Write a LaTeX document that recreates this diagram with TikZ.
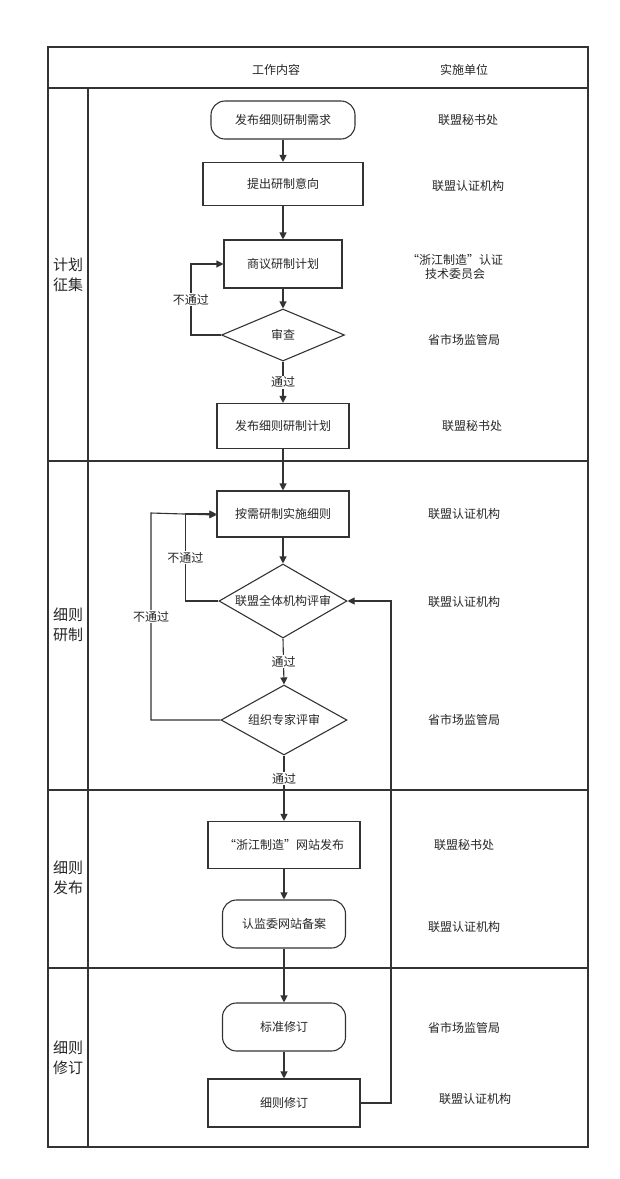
\documentclass[tikz,border=0pt]{standalone}
\usepackage{fontspec}
\setmainfont{Noto Sans CJK SC}
\usetikzlibrary{shapes.geometric,arrows.meta}
\begin{document}
\begin{tikzpicture}[x=1pt,y=-1pt,
  every node/.style={font=\fontsize{12}{15}\selectfont, text=black!85},
  frame/.style={draw=black!80, line width=1.1pt},
  box/.style={draw=black!80, line width=1.1pt, rectangle, minimum width=#1, inner sep=0pt},
  rbox/.style={draw=black!80, line width=1.1pt, rectangle, rounded corners=14pt, minimum width=#1, inner sep=0pt},
  dia/.style={draw=black!80, line width=1.1pt, diamond, aspect=2, inner sep=0pt},
  arr/.style={draw=black!80, line width=1.1pt, -{Triangle[length=7pt,width=7pt]}},
  lab/.style={fill=white, inner sep=1pt}]
\useasboundingbox (0,0) rectangle (620,1179);
% frame
\draw[frame] (48,47) rectangle (588,1147);
\draw[frame] (48,88) -- (588,88);
\draw[frame] (88,88) -- (88,1147);
\draw[frame] (48,461) -- (588,461);
\draw[frame] (48,790) -- (588,790);
\draw[frame] (48,968) -- (588,968);
\node (h1) at (276,70) {工作内容};
\node (h2) at (464,70) {实施单位};
\node[align=center, font=\fontsize{15}{20}\selectfont] (s1) at (68,275) {计划\\征集};
\node[align=center, font=\fontsize{15}{20}\selectfont] (s2) at (68,625) {细则\\研制};
\node[align=center, font=\fontsize{15}{20}\selectfont] (s3) at (68,878) {细则\\发布};
\node[align=center, font=\fontsize{15}{20}\selectfont] (s4) at (68,1058) {细则\\修订};
% nodes
\node[rbox=144pt, minimum height=38pt] (n1) at (283,120) {发布细则研制需求};
\node[box=160pt, minimum height=43pt] (n2) at (283,184) {提出研制意向};
\node[box=118pt, minimum height=48pt] (n3) at (283,264) {商议研制计划};
\node[dia, minimum width=123pt, minimum height=52pt] (d1) at (283,335) {审查};
\node[box=132pt, minimum height=45pt] (n4) at (283,426) {发布细则研制计划};
\node[box=132pt, minimum height=46pt] (n5) at (283,514) {按需研制实施细则};
\node[dia, minimum width=128pt, minimum height=74pt] (d2) at (283,601) {联盟全体机构评审};
\node[dia, minimum width=126pt, minimum height=70pt] (d3) at (284,720) {组织专家评审};
\node[box=152pt, minimum height=47pt] (n6) at (284,845) {“浙江制造”网站发布};
\node[rbox=123pt, minimum height=48pt] (n7) at (284,924) {认监委网站备案};
\node[rbox=123pt, minimum height=48pt] (n8) at (284,1027) {标准修订};
\node[box=152pt, minimum height=48pt] (n9) at (284,1103) {细则修订};
% right labels
\node (r1) at (468,120) {联盟秘书处};
\node (r2) at (468,186) {联盟认证机构};
\node[align=center, font=\fontsize{12}{14}\selectfont] (r3) at (455,267) {“浙江制造”认证\\技术委员会};
\node (r4) at (464,340) {省市场监管局};
\node (r5) at (472,426) {联盟秘书处};
\node (r6) at (464,514) {联盟认证机构};
\node (r7) at (464,602) {联盟认证机构};
\node (r8) at (464,720) {省市场监管局};
\node (r9) at (464,845) {联盟秘书处};
\node (r10) at (464,927) {联盟认证机构};
\node (r11) at (464,1028) {省市场监管局};
\node (r12) at (475,1099) {联盟认证机构};
% arrows
\draw[arr] (n1) -- (n2);
\draw[arr] (n2) -- (n3);
\draw[arr] (n3) -- (d1);
\draw[arr] (d1) -- node[lab]{通过} (n4);
\draw[arr] (n4) -- (n5);
\draw[arr] (n5) -- (d2);
\draw[arr] (d2.south) -- node[lab]{通过} (d3.north);
\draw[arr] (d3.south) -- node[lab, pos=0.35]{通过} (n6);
\draw[arr] (n6) -- (n7);
\draw[arr] (n7) -- (n8);
\draw[arr] (n8) -- (n9);
\draw[arr] (d1.west) -- ++(-30,0) |- node[lab, pos=0.25]{不通过} (n3.west);
\draw[arr] (d2.west) -- ++(-33,0) |- node[lab, pos=0.25]{不通过} (n5.west);
\draw[arr] (d3.west) -- (151,720) -- node[lab]{不通过} (151,513) -- ([yshift=-1pt]n5.west);
\draw[arr] (n9.east) -- (391,1103) |- (d2.east);
\end{tikzpicture}
\end{document}
